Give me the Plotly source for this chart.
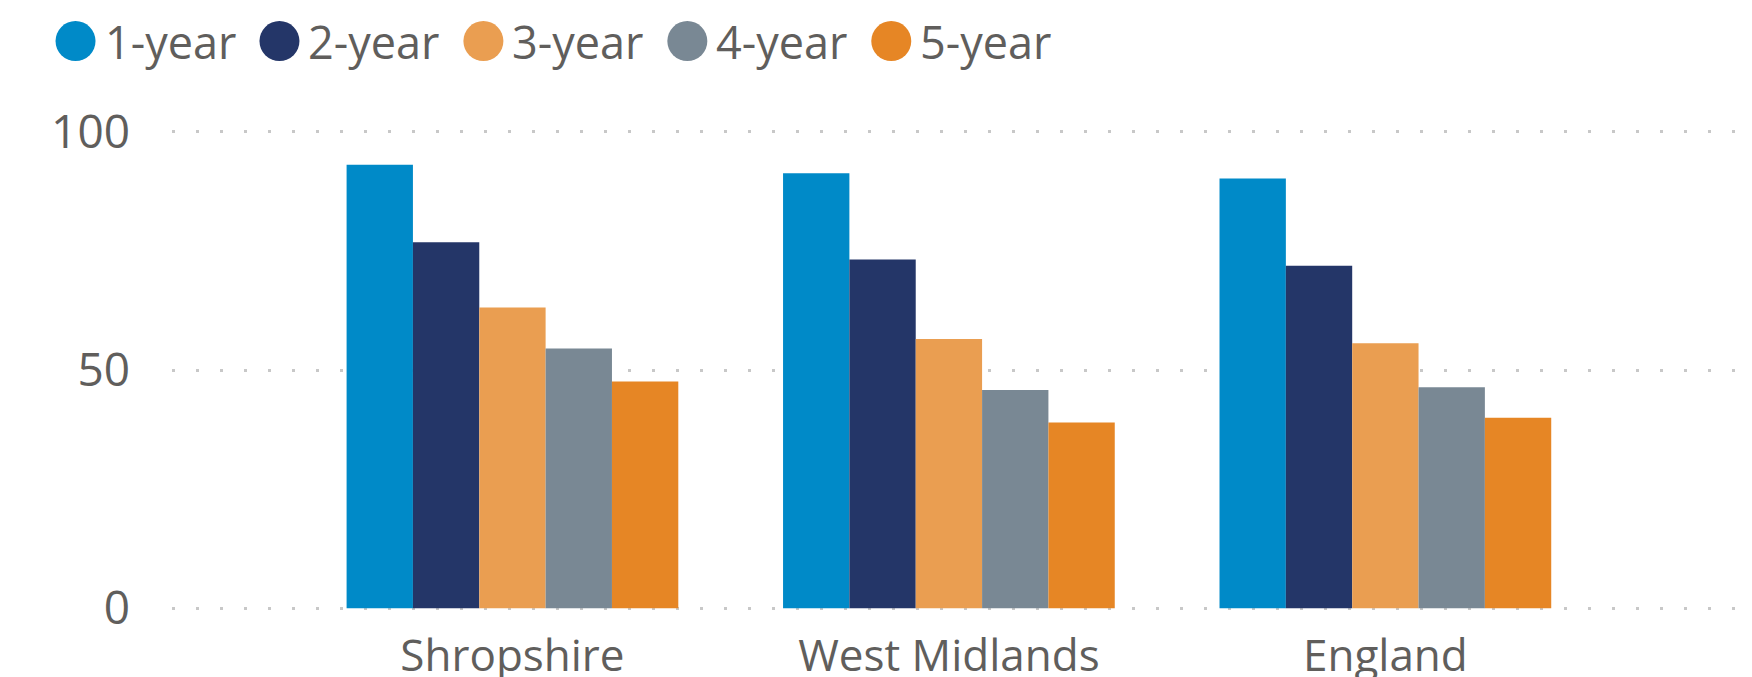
import plotly.graph_objects as go

categories = ["Shropshire", "West Midlands", "England"]
series_names = ["1-year", "2-year", "3-year", "4-year", "5-year"]
one_year = [93.1, 91.3, 90.2]
two_year = [76.8, 73.2, 71.9]
three_year = [63.1, 56.5, 55.6]
four_year = [54.5, 45.8, 46.4]
five_year = [47.6, 39.0, 40.0]
y_ticks = [0, 50, 100]

colors = ["#008AC8", "#243668", "#EA9E51", "#798894", "#E68625"]
values = [one_year, two_year, three_year, four_year, five_year]

OFF = 8  # default page body margin
W, H = 1752 - OFF, 677 - OFF
ML, MR, MT, MB = 171.5 - OFF, 0, 127 - OFF, 677 - 613.3
PW = W - ML - MR
PH = H - MT - MB

fig = go.Figure()
for name, vals, col in zip(series_names, values, colors):
    fig.add_trace(go.Bar(x=categories, y=vals, name=name,
                         marker=dict(color=col, line=dict(width=0)),
                         showlegend=False))

font_family = "Open Sans, Segoe UI, sans-serif"
text_color = "#605E5C"

# manual legend (large circles); positions given in page pixels
shapes = []
annotations = []
for i, (name, col) in enumerate(zip(series_names, colors)):
    cx = 75 + i * 204 - OFF
    cy = 41 - OFF
    shapes.append(dict(type="circle", xref="paper", yref="paper",
                       xsizemode="pixel", ysizemode="pixel",
                       xanchor=(cx - ML) / PW, yanchor=(H - MB - cy) / PH,
                       x0=-20, x1=20, y0=-20, y1=20,
                       fillcolor=col, line=dict(width=0)))
    annotations.append(dict(xref="paper", yref="paper",
                            x=(cx + 27 - ML) / PW, y=(H - MB - cy) / PH,
                            xanchor="left", yanchor="middle", showarrow=False,
                            text=name, font=dict(family=font_family, size=45, color=text_color)))

fig.update_layout(
    width=W, height=H,
    margin=dict(l=ML, r=MR, t=MT, b=MB, pad=0, autoexpand=False),
    paper_bgcolor="white", plot_bgcolor="white",
    barmode="group", bargap=0.24, bargroupgap=0,
    shapes=shapes, annotations=annotations,
    font=dict(family=font_family, color=text_color),
    xaxis=dict(range=[-0.78, 2.84], showgrid=False, showline=False, zeroline=False,
               ticks="", tickfont=dict(size=44, color=text_color), ticklabelstandoff=13),
    yaxis=dict(range=[-1, 101], tickvals=y_ticks, showgrid=True, gridcolor="#C8C8C8",
               gridwidth=3, griddash="3px,21px", zeroline=False, showline=False,
               ticks="", tickfont=dict(size=46, color=text_color), ticklabelstandoff=41),
)

fig.write_html("out.html")
